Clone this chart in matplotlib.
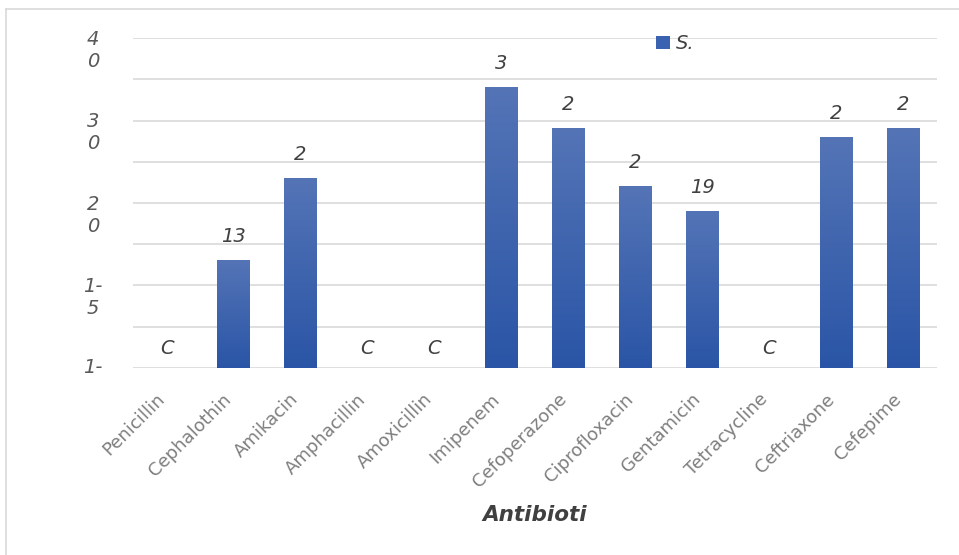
import numpy as np
import matplotlib
matplotlib.use("Agg")
import matplotlib.pyplot as plt
import matplotlib.transforms as mtransforms
from matplotlib.lines import Line2D
from matplotlib.colors import LinearSegmentedColormap

# data
antibiotics = ["Penicillin", "Cephalothin", "Amikacin", "Amphacillin", "Amoxicillin",
               "Imipenem", "Cefoperazone", "Ciprofloxacin", "Gentamicin", "Tetracycline",
               "Ceftriaxone", "Cefepime"]
sensitive = [0, 13, 23, 0, 0, 34, 29, 22, 19, 0, 28, 29]
# bar labels as they appear (clipped in the original)
bar_labels = ["C", "13", "2", "C", "C", "3", "2", "2", "19", "C", "2", "2"]
# y tick labels as they appear (wrapped / clipped in the original)
ytick_vals = [0, 10, 20, 30, 40]
ytick_text = ["1-", "1-\n5", "2\n0", "3\n0", "4\n0"]

plt.rcParams["font.family"] = ["DejaVu Sans"]

fig = plt.figure(figsize=(9.59, 5.55), dpi=100)
ax = fig.add_axes([0.1387, 0.337, 0.977 - 0.1387, 0.9315 - 0.337])

x = np.arange(len(antibiotics))
width = 0.49
bars = ax.bar(x, sensitive, width=width, color="#3a62b0", label="S.", zorder=2)

# vertical gradient on each bar
grad = np.linspace(0, 1, 256).reshape(-1, 1)
cmap = LinearSegmentedColormap.from_list("g", ["#2a55a6", "#5474b6"])
for b in bars:
    h = b.get_height()
    if h <= 0:
        continue
    x0 = b.get_x()
    ax.imshow(grad, cmap=cmap, aspect="auto", origin="lower",
              extent=[x0, x0 + b.get_width(), 0, h], zorder=3)
ax.set_xlim(-0.5, len(antibiotics) - 0.5)
ax.set_ylim(0, 40)

for xi, v, lab in zip(x, sensitive, bar_labels):
    ax.text(xi, v + 2.9 if v > 0 else v + 2.4, lab, ha="center", va="center",
            fontsize=14, color="#404040", fontstyle="italic", zorder=4)

ax.set_yticks(np.arange(0, 41, 5))
ax.yaxis.grid(True, color="#d9d9d9", linewidth=1.2, zorder=0)
ax.set_yticklabels([])
ax.tick_params(axis="y", length=0)
for v, t in zip(ytick_vals, ytick_text):
    if "\n" in t:
        ax.text(-1.1, v + 1.0, t, ha="center", va="top", fontsize=14, color="#595959",
                fontstyle="italic", linespacing=1.2, clip_on=False)
    else:
        ax.text(-1.1, v, t, ha="center", va="center", fontsize=14, color="#595959",
                fontstyle="italic", clip_on=False)

ax.set_xticks(x)
ax.set_xticklabels(antibiotics, rotation=45, ha="right", rotation_mode="anchor",
                   fontsize=13, color="#7f7f7f")
ax.tick_params(axis="x", length=0, pad=16)
shift = mtransforms.ScaledTranslation(-11 / 100, 0, fig.dpi_scale_trans)
for lbl in ax.get_xticklabels():
    lbl.set_transform(lbl.get_transform() + shift)
for s in ax.spines.values():
    s.set_visible(False)

ax.set_xlabel("Antibioti", fontsize=15.5, color="#404040", fontweight="bold",
              fontstyle="italic", labelpad=10)

leg = ax.legend(loc="upper left", bbox_to_anchor=(0.629, 1.064), frameon=False,
                fontsize=14, handlelength=0.7, handleheight=0.7, handletextpad=0.3)
for t in leg.get_texts():
    t.set_color("#404040")
    t.set_fontstyle("italic")

# outer border (only left and top edges visible)
fig.add_artist(Line2D([6 / 959, 6 / 959], [0, 1 - 9 / 555], transform=fig.transFigure,
                      color="#d9d9d9", linewidth=1.2))
fig.add_artist(Line2D([6 / 959, 1], [1 - 9 / 555, 1 - 9 / 555], transform=fig.transFigure,
                      color="#d9d9d9", linewidth=1.2))

fig.savefig("out.png", dpi=100, facecolor="white")
